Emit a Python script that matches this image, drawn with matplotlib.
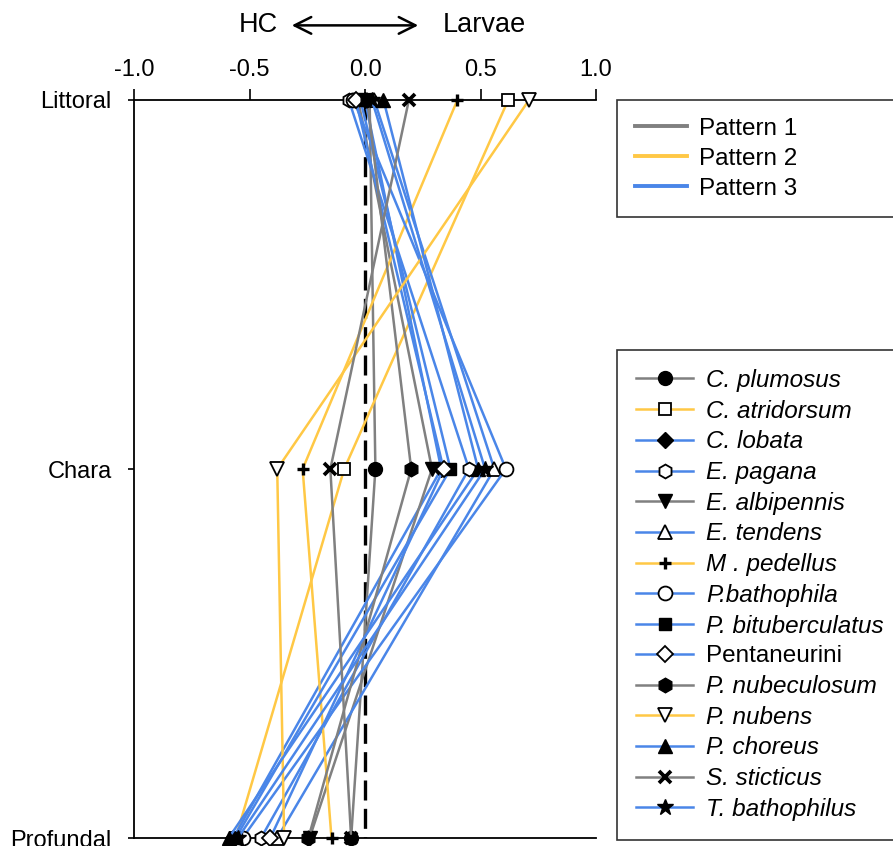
import matplotlib.pyplot as plt
from matplotlib.lines import Line2D

plt.rcParams['font.family'] = ['Liberation Sans', 'DejaVu Sans']

levels = ["Littoral", "Chara", "Profundal"]

species = ["C. plumosus", "C. atridorsum", "C. lobata", "E. pagana",
           "E. albipennis", "E. tendens", "M . pedellus", "P.bathophila",
           "P. bituberculatus", "Pentaneurini", "P. nubeculosum", "P. nubens",
           "P. choreus", "S. sticticus", "T. bathophilus"]
pattern = [1, 2, 3, 3, 1, 3, 2, 3, 3, 3, 1, 2, 3, 1, 3]

littoral = [0.02, 0.62, 0.00, -0.07, -0.03, 0.04, 0.40, -0.05,
            -0.02, -0.04, 0.01, 0.71, 0.08, 0.19, 0.03]
chara = [0.045, -0.09, 0.33, 0.45, 0.29, 0.56, -0.27, 0.61,
         0.37, 0.34, 0.20, -0.38, 0.49, -0.15, 0.52]
profundal = [-0.06, -0.56, -0.57, -0.45, -0.24, -0.38, -0.145, -0.53,
             -0.56, -0.41, -0.245, -0.35, -0.59, -0.06, -0.55]

pattern_colors = {1: "#808080", 2: "#ffc845", 3: "#4a86e8"}
# marker, filled?, size, edge width
styles = [("o", True, 10, 1), ("s", False, 9, 1.3), ("D", True, 8.5, 1),
          ("h", False, 10, 1.3), ("v", True, 10, 1), ("^", False, 10, 1.3),
          ("+", True, 8, 2.4), ("o", False, 10, 1.3), ("s", True, 9, 1),
          ("D", False, 8.5, 1.3), ("h", True, 10.5, 1), ("v", False, 10, 1.3),
          ("^", True, 10, 1), ("x", True, 8.5, 2.7), ("*", True, 12, 1)]

fig = plt.figure(figsize=(8.93, 8.46), dpi=100)
ax = fig.add_axes([134 / 893, 1 - 838 / 846, 462 / 893, 738 / 846])

ypos = [0, 1, 2]
handles = []
for i, name in enumerate(species):
    m, filled, ms, mew = styles[i]
    color = pattern_colors[pattern[i]]
    line, = ax.plot([littoral[i], chara[i], profundal[i]], ypos,
                    color=color, lw=1.8, marker=m, ms=ms, mew=mew,
                    mec="black", mfc="black" if filled else "white",
                    label=name, clip_on=False, zorder=3)
    handles.append(line)

ax.plot([0, 0], [0, 2], color="black", lw=2.4, dashes=(6, 2.5), zorder=2.5)

ax.set_xlim(-1, 1)
ax.set_ylim(2, 0)
ax.set_yticks(ypos)
ax.set_yticklabels(levels)
ax.set_xticks([-1, -0.5, 0, 0.5, 1])
ax.set_xticklabels(["-1.0", "-0.5", "0.0", "0.5", "1.0"])
ax.xaxis.tick_top()
ax.tick_params(axis="both", labelsize=17, width=1.2)
ax.tick_params(axis="x", length=8, pad=6)
ax.tick_params(axis="y", length=4, pad=12)
ax.spines["right"].set_visible(False)
for s in ["top", "left", "bottom"]:
    ax.spines[s].set_linewidth(1.3)

fig.text(258 / 893, 0.970, "HC", fontsize=19.5, ha="center", va="center")
fig.text(484 / 893, 0.970, "Larvae", fontsize=19.5, ha="center", va="center")
fig.add_artist(plt.Annotation("", xy=(421 / 893, 0.970), xytext=(289 / 893, 0.970),
                              xycoords="figure fraction",
                              arrowprops=dict(arrowstyle="<->", lw=1.8,
                                              mutation_scale=30)))

pat_handles = [Line2D([], [], color=pattern_colors[k], lw=2.8)
               for k in (1, 2, 3)]
leg1 = fig.legend(pat_handles, ["Pattern 1", "Pattern 2", "Pattern 3"],
                  loc="upper left", mode="expand",
                  bbox_to_anchor=(617 / 893, 1 - 217 / 846, 300 / 893, 117 / 846),
                  borderaxespad=0, fontsize=17.5, frameon=True, fancybox=False,
                  edgecolor="black", handlelength=2.15, handletextpad=0.5,
                  labelspacing=0.33, borderpad=0.72)
leg1.get_frame().set_linewidth(1.2)

leg2 = fig.legend(handles, species, loc="upper left",
                  bbox_to_anchor=(617 / 893, 1 - 350 / 846),
                  borderaxespad=0, fontsize=17.5, frameon=True, fancybox=False,
                  edgecolor="black", handlelength=2.35, handletextpad=0.53,
                  labelspacing=0.317, borderpad=0.78)
leg2.get_frame().set_linewidth(1.2)
for t in leg2.get_texts():
    if t.get_text() != "Pentaneurini":
        t.set_fontstyle("italic")

fig.savefig("out.png", dpi=100)
